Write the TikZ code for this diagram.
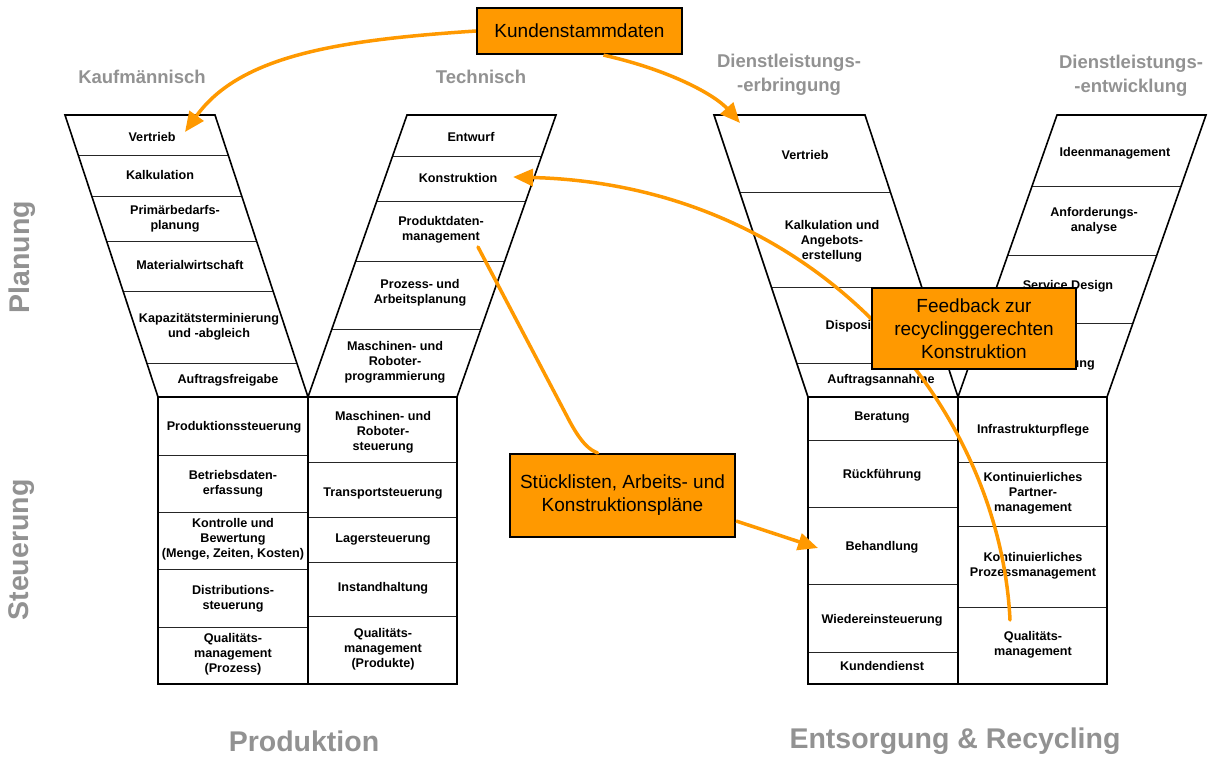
\documentclass[tikz,border=0pt]{standalone}
\usepackage{fontspec}
\setmainfont{Liberation Sans}
\usetikzlibrary{arrows.meta}
\definecolor{org}{HTML}{FF9900}
\definecolor{lbl}{HTML}{929292}
\begin{document}
\begin{tikzpicture}[x=1pt,y=-1pt,
 cell/.style={font=\fontsize{12.6}{15}\selectfont\bfseries, align=center, inner sep=0pt},
 outline/.style={line width=1.6pt, line join=miter},
 sepline/.style={line width=0.8pt, draw=black!85},
 obox/.style={draw=black, line width=2.2pt, fill=org, font=\fontsize{19}{23}\selectfont, align=center, inner sep=0pt},
 flow/.style={draw=org, line width=3.5pt},
 tipped/.style={-{Triangle[length=20pt,width=17pt]}},
 hdr/.style={text=lbl, font=\fontsize{18.5}{24}\selectfont\bfseries, align=center, inner sep=0pt},
 big/.style={text=lbl, font=\fontsize{28.5}{32}\selectfont\bfseries, inner sep=0pt}]
\useasboundingbox (0,0) rectangle (1211,758);

% ---------- headers ----------
\node[hdr] (hkauf) at (142,77) {Kaufmännisch};
\node[hdr] (htech) at (481,77) {Technisch};
\node[hdr] (hdle) at (789,75) {Dienstleistungs-\\-erbringung};
\node[hdr] (hdlen) at (1131,76) {Dienstleistungs-\\-entwicklung};
\node[big, rotate=90] (planung) at (22,257) {Planung};
\node[big, rotate=90] (steuerung) at (22,550) {Steuerung};
\node[big] (prod) at (304,741) {Produktion};
\node[big] (entsorg) at (955,741) {Entsorgung \& Recycling};

% ---------- left Y ----------
\foreach \y in {155,196,241,291,363}
  \draw[sepline] ({65+(\y-115)/282*93},\y) -- ({215+(\y-115)/282*93},\y);
\foreach \y in {156,201,261,329}
  \draw[sepline] ({407-(\y-115)/282*99},\y) -- ({556-(\y-115)/282*99},\y);
\foreach \y in {455,512,569,627}
  \draw[sepline] (158,\y) -- (308,\y);
\foreach \y in {462,517,562,616}
  \draw[sepline] (308,\y) -- (457,\y);
\draw[outline] (65,115) -- (215,115) -- (308,397) -- (158,397) -- cycle;
\draw[outline] (407,115) -- (556,115) -- (457,397) -- (308,397) -- cycle;
\draw[outline] (158,397) rectangle (457,684);
\draw[outline] (308,397) -- (308,684);

\node[cell] (kv) at (152,137) {Vertrieb};
\node[cell] (kk) at (160,175) {Kalkulation};
\node[cell] (kp) at (175,219) {Primärbedarfs-\\planung};
\node[cell] (km) at (190,265) {Materialwirtschaft};
\node[cell] (kz) at (209,327) {Kapazitätsterminierung\\und -abgleich};
\node[cell] (ka) at (228,380) {Auftragsfreigabe};

\node[cell] (te) at (471,137) {Entwurf};
\node[cell] (tk) at (458,178) {Konstruktion};
\node[cell] (tp) at (441,230) {Produktdaten-\\management};
\node[cell] (tpa) at (420,293) {Prozess- und\\Arbeitsplanung};
\node[cell] (tmr) at (395,362) {Maschinen- und\\Roboter-\\programmierung};

\node[cell] (sps) at (234,427) {Produktionssteuerung};
\node[cell] (sbd) at (233,484) {Betriebsdaten-\\erfassung};
\node[cell] (skb) at (233,539) {Kontrolle und\\Bewertung\\(Menge, Zeiten, Kosten)};
\node[cell] (sds) at (233,599) {Distributions-\\steuerung};
\node[cell] (sqp) at (233,654) {Qualitäts-\\management\\(Prozess)};

\node[cell] (smr) at (383,432) {Maschinen- und\\Roboter-\\steuerung};
\node[cell] (sts) at (383,493) {Transportsteuerung};
\node[cell] (sls) at (383,539) {Lagersteuerung};
\node[cell] (sih) at (383,588) {Instandhaltung};
\node[cell] (sqpr) at (383,649) {Qualitäts-\\management\\(Produkte)};

% ---------- right Y ----------
\foreach \y in {192,287,363}
  \draw[sepline] ({714+(\y-115)/282*94},\y) -- ({865+(\y-115)/282*94},\y);
\foreach \y in {186,255,323}
  \draw[sepline] ({1057-(\y-115)/282*99},\y) -- ({1206-(\y-115)/282*99},\y);
\foreach \y in {440,507,584,652}
  \draw[sepline] (808,\y) -- (958,\y);
\foreach \y in {462,526,607}
  \draw[sepline] (958,\y) -- (1107,\y);
\draw[outline] (714,115) -- (865,115) -- (958,397) -- (808,397) -- cycle;
\draw[outline] (1057,115) -- (1206,115) -- (1107,397) -- (958,397) -- cycle;
\draw[outline] (808,397) rectangle (1107,684);
\draw[outline] (958,397) -- (958,684);

\node[cell] (dv) at (805,155) {Vertrieb};
\node[cell] (dk) at (832,241) {Kalkulation und\\Angebots-\\erstellung};
\node[cell] (dd) at (860,326) {Disposition};
\node[cell] (da) at (881,380) {Auftragsannahme};

\node[cell] (ei) at (1115,153) {Ideenmanagement};
\node[cell] (ea) at (1094,221) {Anforderungs-\\analyse};
\node[cell] (es) at (1068,286) {Service Design};
\node[cell] (eim) at (1044,364) {Implementierung};

\node[cell] (rb) at (882,417) {Beratung};
\node[cell] (rr) at (882,475) {Rückführung};
\node[cell] (rbe) at (882,547) {Behandlung};
\node[cell] (rw) at (882,620) {Wiedereinsteuerung};
\node[cell] (rk) at (882,666) {Kundendienst};

\node[cell] (ri) at (1033,430) {Infrastrukturpflege};
\node[cell] (rkp) at (1033,493) {Kontinuierliches\\Partner-\\management};
\node[cell] (rkpm) at (1033,566) {Kontinuierliches\\Prozessmanagement};
\node[cell] (rq) at (1033,645) {Qualitäts-\\management};

% ---------- orange boxes ----------
\node[obox, minimum width=205pt, minimum height=46pt] (kunden) at (579.5,31) {Kundenstammdaten};
\node[obox, minimum width=225pt, minimum height=83pt] (stueck) at (622.5,495.5) {Stücklisten, Arbeits- und\\Konstruktionspläne};

% ---------- connectors ----------
\coordinate (c1end) at (185,132);
\coordinate (c2end) at (740,123);
\coordinate (c3start) at (478,247);
\coordinate (c3mid) at (570,422);
\coordinate (c4end) at (818,548);
\coordinate (c5start) at (1010,620);
\coordinate (c5end) at (513,177);

\draw[flow, tipped] (kunden.west) .. controls (340,40) and (240,55) .. (c1end);
\draw[flow, tipped] ([xshift=24pt]kunden.south) .. controls (670,70) and (715,95) .. (c2end);
\draw[flow, line cap=round] (c3start) -- (c3mid) .. controls (582,444) and (590,450) .. ([xshift=-25pt]stueck.north);
\draw[flow, tipped] (stueck.east |- 0,521) -- (c4end);
\draw[flow, tipped, line cap=round] (c5start) .. controls (1000,410) and (820,185) .. (c5end);

\node[obox, minimum width=204pt, minimum height=81pt] (feedback) at (974,328.5) {Feedback zur\\recyclinggerechten\\Konstruktion};
\end{tikzpicture}
\end{document}
